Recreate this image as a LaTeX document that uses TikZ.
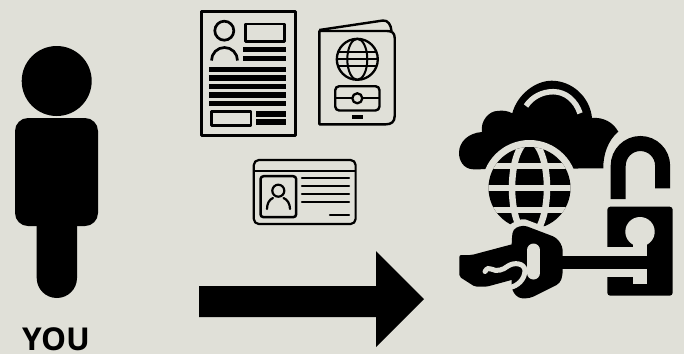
\documentclass[tikz,border=0pt]{standalone}
\usepackage{fontspec}
\setmainfont{Open Sans}
\definecolor{bgc}{HTML}{E0E0D8}
\tikzset{
  ink/.style={draw=black,line join=round,fill=none},
  solid ink/.style={fill=black,draw=none},
  gap/.style={draw=bgc,fill=none},
  gapfill/.style={fill=bgc,draw=none},
}
\begin{document}
\begin{tikzpicture}[x=1pt,y=-1pt]
\fill[bgc] (0,0) rectangle (684,354);
\useasboundingbox (0,0) rectangle (684,354);
% person
\fill[solid ink] (56.7,81) circle (35);
\fill[solid ink,rounded corners=13] (15,118) rectangle (98,226);
\fill[solid ink] (36.7,220) -- (77,220) -- (77,278) arc[start angle=0,end angle=-180,x radius=20.15,y radius=-20] -- cycle;
\node[font=\bfseries,scale=3.15,inner sep=0,anchor=base] (you) at (56,350) {YOU};
% arrow
\fill[solid ink] (199,286) -- (376,286) -- (376,251) -- (424,299) -- (376,347) -- (376,317) -- (199,317) -- cycle;
% document
\draw[ink,line width=3] (201.5,11) rectangle (295,135);
\draw[ink,line width=2.7] (224.3,30.7) circle (9.5);
\draw[ink,line width=2.7] (211.5,60.5) arc[start angle=180,end angle=0,radius=13,y radius=-13];
\draw[ink,line width=2.7] (245.3,24) rectangle (284.7,41.4);
\draw[ink,line width=2.7] (211.3,111.4) rectangle (251,125.3);
\foreach \a/\b in {46.7/52.3,55.7/61.3} \fill[solid ink] (243.3,\a) rectangle (286,\b);
\foreach \a/\b in {66.7/72.3,75.3/81,83.7/89.3,92/97.7,100.7/106.3} \fill[solid ink] (209,\a) rectangle (286,\b);
\foreach \a/\b in {111/116.7,119.3/125} \fill[solid ink] (256,\a) rectangle (286,\b);
% passport
\draw[ink,line width=2.4] (319.3,30) -- (383,20.5) .. controls (388,20) and (391,25) .. (391.5,31);
\draw[ink,line width=2.4] (319.3,31) -- (387,31) .. controls (392,31) and (394.7,33) .. (394.7,38) -- (394.7,116) .. controls (394.7,122) and (391,124.3) .. (386,124.3) -- (319.3,124.3) -- cycle;
\draw[ink,line width=2.3] (357.3,59.3) circle (20.5);
\draw[ink,line width=2] (357.3,59.3) ellipse (10 and 20.5);
\foreach \d in {-7,0,7} {
  \begin{scope}
    \clip (357.3,59.3) circle (20.5);
    \draw[ink,line width=2] (335,59.3+\d) -- (380,59.3+\d);
  \end{scope}
}
\draw[ink,line width=2.4,rounded corners=4] (335.2,86.2) rectangle (379.5,110.5);
\draw[ink,line width=2.3] (357.3,98.3) circle (5);
\draw[ink,line width=2.3] (335.2,97.7) -- (352.3,97.7) (362.3,97.7) -- (379.5,97.7);
\fill[solid ink] (352.3,115) rectangle (363.3,119);
% id card
\draw[ink,line width=2.2,rounded corners=5] (253.8,160) rectangle (355.6,224);
\draw[ink,line width=2] (253.8,170.5) -- (355.6,170.5);
\draw[ink,line width=2.5,rounded corners=3] (260.5,176.2) rectangle (296.2,217.2);
\draw[ink,line width=2.2] (278.3,190.7) circle (6);
\draw[ink,line width=2.2,line cap=round] (267,209) .. controls (267,204) and (269,199.5) .. (273,198);
\draw[ink,line width=2.2,line cap=round] (290,209) .. controls (290,204) and (287.5,199.5) .. (283.5,198);
\foreach \y in {178,186,194,202} \draw[ink,line width=2.2,line cap=round] (302,\y) -- (349,\y);
\draw[ink,line width=2.2,line cap=round] (330,215) -- (349,215);
% cloud
\fill[solid ink] (473.3,169.3) .. controls (463,169) and (459,160) .. (459,153)
  .. controls (459,142) and (468,133) .. (482,132)
  .. controls (480,120) and (490,111) .. (497,111)
  .. controls (503,110) and (508,111) .. (512.3,113.3)
  .. controls (517,95) and (535,80.7) .. (551.7,80.7)
  .. controls (572,80.7) and (590,97) .. (592,118)
  .. controls (603,117) and (613,122) .. (618.3,131.7)
  .. controls (608,140) and (603,155) .. (603.3,168.3) -- cycle;
\draw[gap,line width=5.5] (526,106) .. controls (532,97) and (542,91.7) .. (553.3,91.7) .. controls (566,91.7) and (576,101) .. (580,113.3);
% globe
\fill[gapfill] (529.5,188) circle (48);
\begin{scope}
  \clip (529.5,188) circle (41);
  \fill[solid ink] (480,140) rectangle (580,240);
  \draw[gap,line width=6.5] (529.5,188) ellipse (17.5 and 47);
  \draw[gap,line width=6.5] (480,166) -- (580,166) (480,188) -- (580,188) (480,210) -- (580,210);
\end{scope}
% shackle
\draw[draw=black,line width=15] (618.2,199) -- (618.2,165.7) arc[start angle=180,end angle=0,radius=22.2,y radius=-22.2] -- (662.5,188.3);
% lock body
\fill[solid ink,rounded corners=3] (607.3,206.7) rectangle (672.7,295.7);
\fill[gapfill] (640,231.7) circle (14.7);
\fill[gapfill] (633.3,240) rectangle (647.3,256);
\fill[gapfill] (600,247.3) rectangle (647.3,256);
\fill[gapfill] (600,269.3) rectangle (647.3,276.7);
\fill[gapfill] (633.3,269.3) rectangle (647.3,284.3);
% key: halo, shaft, bow and hand
\draw[gap,line width=12,line join=round] (511.7,238.3) -- (515,228.3) -- (523.3,225) -- (556.7,237.7);
\fill[solid ink] (555,256) rectangle (648,269.3);
\fill[solid ink,rounded corners=4] (511.7,240) -- (513,229) -- (523.3,225) -- (556.7,237.7) -- (562.7,246.7) -- (562.7,275) -- (560,283.3) -- (530,298.3) -- (518.3,298.3) -- (511.7,290) -- cycle;
\fill[solid ink,rounded corners=2] (459.3,255) -- (471.7,255) -- (515,243.5) -- (525,265) -- (515,279) -- (486.7,286.7) -- (475,286.7) -- (459.3,276.7) -- cycle;
\draw[gap,line width=5,line cap=round] (485,271.5) .. controls (487,268) and (489,268) .. (491,269) .. controls (497,272) and (503,270) .. (508,266) .. controls (514,262) and (524,263) .. (525,270) .. controls (525,280) and (517,286) .. (510,287.5);
\draw[gap,line width=13,line cap=round] (533.5,250) -- (533.5,273);
\end{tikzpicture}
\end{document}
